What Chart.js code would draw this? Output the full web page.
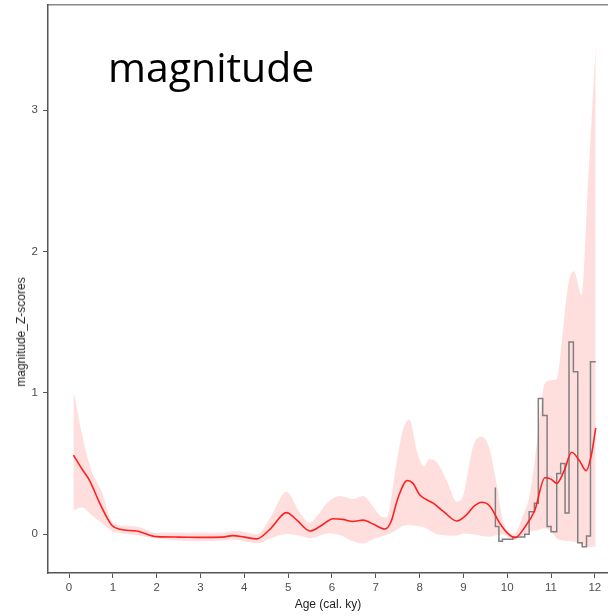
<!DOCTYPE html>
<html lang="en">
<head>
  <meta charset="UTF-8" />
  <title>magnitude Z-scores</title>
  <style>
    body {
      margin: 0;
      background: #fff;
    }

    .wrap {
      position: relative;
      width: 608px;
      height: 616px;
    }

    .big-title {
      position: absolute;
      left: 108px;
      top: 46px;
      font-family: 'Open Sans', sans-serif;
      font-size: 41px;
      line-height: 41px;
      color: #000;
      white-space: nowrap;
    }

    .y-title {
      position: absolute;
      left: 21px;
      top: 332px;
      transform: translate(-50%, -50%) rotate(-90deg);
      font-family: 'Liberation Sans', Arial, sans-serif;
      font-size: 12px;
      color: #222;
      white-space: nowrap;
    }
  </style>
</head>
<body>

  <div class="wrap">
    <canvas id="chart"></canvas>
    <div class="big-title">magnitude</div>
    <div class="y-title">magnitude_Z-scores</div>
  </div>

  <script src="https://cdn.jsdelivr.net/npm/chart.js"></script>
  <script>
    // tick labels
    const xTicks = [0, 1, 2, 3, 4, 5, 6, 7, 8, 9, 10, 11, 12];
    const yTicks = [0, 1, 2, 3];

    // mean curve (red)
    const meanAge = [0.1, 0.3, 0.47, 0.7, 0.97, 1.16, 1.54, 2.0, 2.5, 3.0, 3.5, 3.74, 4.0, 4.28, 4.6, 4.96, 5.2, 5.5, 5.75, 6.03, 6.25, 6.48, 6.71, 6.95, 7.21, 7.35, 7.5, 7.72, 7.85, 8.0, 8.31, 8.55, 8.85, 9.07, 9.25, 9.42, 9.6, 9.83, 10.0, 10.18, 10.4, 10.63, 10.86, 11.0, 11.13, 11.3, 11.47, 11.65, 11.8, 11.92, 12.02];
    const meanZ = [0.56, 0.46, 0.38, 0.22, 0.066, 0.035, 0.023, -0.017, -0.02, -0.022, -0.02, -0.01, -0.02, -0.033, 0.04, 0.153, 0.10, 0.023, 0.06, 0.11, 0.105, 0.09, 0.10, 0.07, 0.037, 0.09, 0.25, 0.38, 0.36, 0.28, 0.22, 0.16, 0.094, 0.137, 0.2, 0.226, 0.20, 0.078, 0.01, -0.024, 0.05, 0.17, 0.40, 0.39, 0.36, 0.45, 0.58, 0.52, 0.45, 0.56, 0.75];

    // confidence band (pink)
    const bandAge = [0.1, 0.3, 0.5, 0.75, 1.0, 1.3, 1.6, 2.0, 2.5, 3.0, 3.5, 3.8, 4.3, 4.6, 4.96, 5.27, 5.5, 5.65, 5.88, 6.18, 6.48, 6.71, 6.94, 7.13, 7.25, 7.47, 7.63, 7.77, 7.93, 8.1, 8.22, 8.39, 8.62, 8.85, 9.0, 9.22, 9.42, 9.6, 9.76, 9.9, 10.15, 10.35, 10.52, 10.7, 10.85, 11.0, 11.13, 11.2, 11.39, 11.52, 11.7, 11.85, 12.02];
    const bandUpper = [1.02, 0.70, 0.46, 0.30, 0.08, 0.06, 0.05, 0.01, 0.012, 0.01, 0.012, 0.025, 0.0, 0.12, 0.30, 0.15, 0.08, 0.125, 0.22, 0.27, 0.25, 0.27, 0.195, 0.125, 0.12, 0.50, 0.75, 0.81, 0.60, 0.48, 0.53, 0.51, 0.38, 0.23, 0.28, 0.62, 0.69, 0.60, 0.35, 0.10, 0.0, 0.125, 0.29, 0.70, 1.06, 1.09, 1.10, 1.23, 1.76, 1.86, 1.69, 2.52, 3.46];
    const bandLower = [0.17, 0.19, 0.14, 0.078, 0.02, 0.004, -0.01, -0.028, -0.045, -0.05, -0.045, -0.04, -0.064, -0.03, 0.002, -0.01, -0.028, -0.02, 0.005, -0.005, -0.05, -0.065, -0.035, -0.015, -0.005, 0.03, 0.06, 0.066, 0.058, 0.05, 0.03, 0.0, -0.008, -0.01, 0.005, 0.0, -0.012, -0.017, -0.005, 0.0, -0.04, -0.01, 0.018, 0.03, 0.042, 0.02, -0.03, -0.04, -0.048, -0.052, -0.07, -0.088, -0.088];

    // binned record (grey steps)
    const stepAge = [9.73, 9.81, 9.89, 10.13, 10.4, 10.5, 10.62, 10.71, 10.81, 10.91, 11.0, 11.13, 11.22, 11.32, 11.41, 11.51, 11.61, 11.71, 11.81, 11.9, 12.02];
    const stepZ = [0.33, 0.054, -0.05, -0.035, -0.02, 0.0, 0.16, 0.22, 0.96, 0.84, 0.054, 0.018, 0.43, 0.50, 0.15, 1.36, 1.15, -0.06, -0.088, -0.012, 1.22];

    const pts = (xs, ys) => xs.map((x, i) => ({ x: x, y: ys[i] }));

    const axisColor = '#555';
    const tickFont = { family: 'Liberation Sans', size: 11.5 };

    // fixed axis boxes so the plot area lands where the reference has it
    function fixBox(s, w, h) {
      if (w !== null) s.width = w;
      if (h !== null) s.height = h;
      s.paddingTop = 0;
      s.paddingBottom = 0;
      s.paddingLeft = 0;
      s.paddingRight = 0;
    }

    const ctx = document.getElementById('chart').getContext('2d');
    new Chart(ctx, {
      type: 'line',
      data: {
        datasets: [
          {
            label: 'mean',
            data: pts(meanAge, meanZ),
            borderColor: '#ff2020',
            borderWidth: 1.6,
            pointRadius: 0,
            tension: 0.4,
            cubicInterpolationMode: 'monotone',
            fill: false
          },
          {
            label: 'bins',
            data: pts(stepAge, stepZ),
            borderColor: '#808080',
            borderWidth: 1.5,
            pointRadius: 0,
            stepped: 'after',
            fill: false
          },
          {
            label: 'upper',
            data: pts(bandAge, bandUpper),
            borderWidth: 0,
            borderColor: 'rgba(0,0,0,0)',
            backgroundColor: 'rgba(255,0,0,0.13)',
            pointRadius: 0,
            tension: 0.4,
            cubicInterpolationMode: 'monotone',
            fill: 3
          },
          {
            label: 'lower',
            data: pts(bandAge, bandLower),
            borderWidth: 0,
            borderColor: 'rgba(0,0,0,0)',
            pointRadius: 0,
            tension: 0.4,
            cubicInterpolationMode: 'monotone',
            fill: false
          }
        ]
      },
      options: {
        responsive: true,
        maintainAspectRatio: false,
        animation: false,
        layout: { padding: 0 },
        plugins: {
          legend: { display: false },
          tooltip: { enabled: false }
        },
        scales: {
          x: {
            type: 'linear',
            position: 'bottom',
            min: -0.48,
            max: 12.3,
            afterBuildTicks: s => { s.ticks = xTicks.map(v => ({ value: v })); },
            afterFit: s => fixBox(s, null, 43),
            grid: { drawOnChartArea: false, drawTicks: true, tickLength: 5, color: axisColor },
            border: { display: true, color: axisColor, width: 1.5 },
            ticks: { font: tickFont, color: '#4d4d4d', padding: 3, maxRotation: 0, autoSkip: false },
            title: {
              display: true,
              text: 'Age (cal. ky)',
              font: { family: 'Liberation Sans', size: 12 },
              color: '#222',
              padding: { top: 0, bottom: 4 }
            }
          },
          xTop: {
            type: 'linear',
            position: 'top',
            min: -0.48,
            max: 12.3,
            afterFit: s => fixBox(s, null, 5),
            grid: { display: false, drawTicks: false },
            border: { display: true, color: '#888', width: 1.5 },
            ticks: { display: false }
          },
          y: {
            type: 'linear',
            position: 'left',
            min: -0.274,
            max: 3.743,
            afterBuildTicks: s => { s.ticks = yTicks.map(v => ({ value: v })); },
            afterFit: s => fixBox(s, 48, null),
            grid: { drawOnChartArea: false, drawTicks: true, tickLength: 5, color: axisColor },
            border: { display: true, color: axisColor, width: 1.5 },
            ticks: { font: tickFont, color: '#4d4d4d', padding: 5 }
          }
        }
      }
    });
  </script>

</body>
</html>
